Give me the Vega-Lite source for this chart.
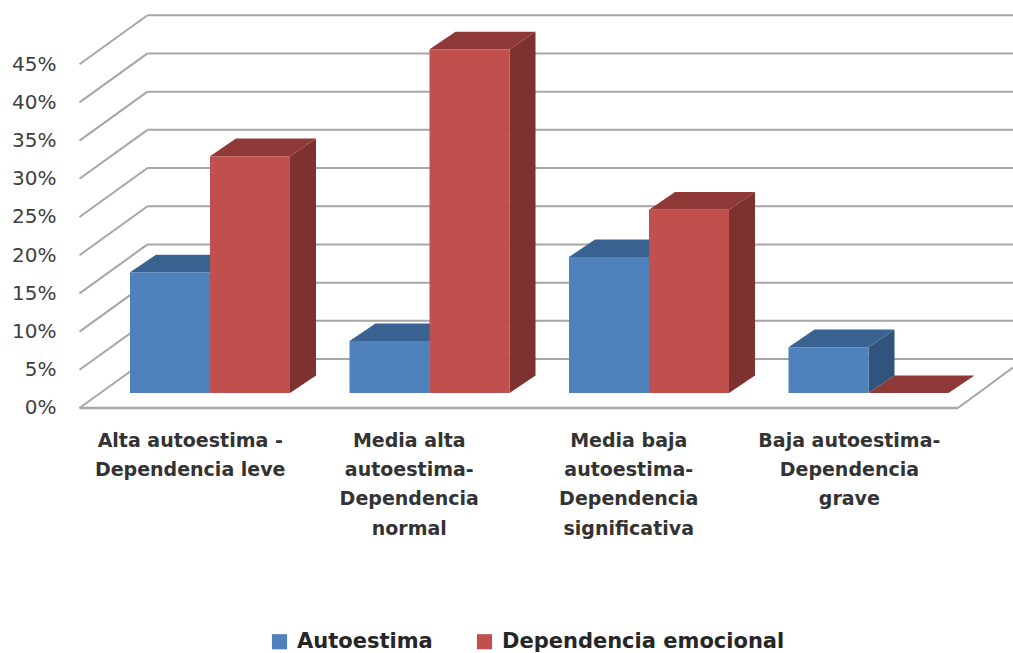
{
"$schema":"https://vega.github.io/schema/vega-lite/v6.json",
"width":955,"height":410,"padding":{"left":58,"top":8,"right":0,"bottom":235},"autosize":"none",
"background":"white",
"config":{"view":{"stroke":null}},
"datasets":{
"bars":[
{"categoria":0,"serie":"Autoestima","valor":15.8},
{"categoria":0,"serie":"Dependencia emocional","valor":31},
{"categoria":1,"serie":"Autoestima","valor":6.8},
{"categoria":1,"serie":"Dependencia emocional","valor":45},
{"categoria":2,"serie":"Autoestima","valor":17.8},
{"categoria":2,"serie":"Dependencia emocional","valor":24},
{"categoria":3,"serie":"Autoestima","valor":6},
{"categoria":3,"serie":"Dependencia emocional","valor":0}
],
"grid":[{"nivel":0},{"nivel":5},{"nivel":10},{"nivel":15},{"nivel":20},{"nivel":25},{"nivel":30},{"nivel":35},{"nivel":40},{"nivel":45}]
},
"layer":[
{"data":{"name":"grid"},"transform":[{"calculate":"datum.nivel+6.41","as":"atras"}],
 "mark":{"type":"rule","color":"#a6a6a6","strokeWidth":2},
 "encoding":{"x":{"datum":0.0797,"type":"quantitative","scale":{"domain":[-0.328,4.0228],"nice":false,"zero":false},
   "axis":{"values":[0.272,1.27,2.27,3.275],"title":null,"domain":false,"ticks":false,"grid":false,"labelPadding":13,"labelFontSize":19,"labelFont":"DejaVu Sans","labelColor":"#333333","labelFontWeight":"bold","labelLineHeight":29.4,"labelBaseline":"top","labelAngle":0,"labelFlush":false,"labelOverlap":false,"labelLimit":300,
   "labelExpr":"[['Alta autoestima -','Dependencia leve'],['Media  alta','autoestima-','Dependencia','normal'],['Media  baja','autoestima-','Dependencia','significativa'],['Baja autoestima-','Dependencia','grave']][round(datum.value-0.27)]"}},
  "x2":{"datum":4.0228},
  "y":{"field":"atras","type":"quantitative","scale":{"domain":[-1.309,52.356],"nice":false,"zero":false},
   "axis":{"values":[0,5,10,15,20,25,30,35,40,45],"title":null,"domain":false,"ticks":false,"grid":false,"labelPadding":2,"labelFontSize":20,"labelFont":"DejaVu Sans","labelColor":"#404040","labelExpr":"datum.value+'%'"}}}},
{"data":{"name":"grid"},"transform":[{"calculate":"datum.nivel+6.41","as":"atras"}],
 "mark":{"type":"rule","color":"#a6a6a6","strokeWidth":2},
 "encoding":{"x":{"datum":-0.2299,"type":"quantitative"},"x2":{"datum":0.0797},
  "y":{"field":"nivel","type":"quantitative"},"y2":{"field":"atras"}}},
{"data":{"values":[{"nivel":0}]},"mark":{"type":"rule","color":"#a6a6a6","strokeWidth":2.5},
 "encoding":{"x":{"datum":-0.2299,"type":"quantitative"},"x2":{"datum":3.772},"y":{"field":"nivel","type":"quantitative"}}},
{"data":{"values":[{"nivel":0}]},"transform":[{"calculate":"datum.nivel+5.3","as":"atras"}],
 "mark":{"type":"rule","color":"#a6a6a6","strokeWidth":2},
 "encoding":{"x":{"datum":3.772,"type":"quantitative"},"x2":{"datum":4.0228},"y":{"field":"nivel","type":"quantitative"},"y2":{"field":"atras"}}},
{"data":{"name":"bars"},
 "transform":[
  {"calculate":"[0,1]","as":"c"},{"flatten":["c"]},
  {"calculate":"datum.categoria+(datum.serie=='Autoestima'?0.3645:0.729)+datum.c*0.1185","as":"xs"},
  {"calculate":"1.963+datum.c*2.3","as":"b"},
  {"calculate":"datum.valor+datum.b","as":"t"},
  {"calculate":"datum.categoria+'-'+datum.serie","as":"id"}],
 "mark":{"type":"area","interpolate":"linear"},
 "encoding":{"x":{"field":"xs","type":"quantitative"},"y":{"field":"t","type":"quantitative"},"y2":{"field":"b"},"detail":{"field":"id"},
  "color":{"field":"serie","type":"nominal","legend":null,"scale":{"domain":["Autoestima","Dependencia emocional"],"range":["#30547e","#7d3230"]}}}},
{"data":{"name":"bars"},
 "transform":[
  {"calculate":"[0,1,2,3]","as":"c"},{"flatten":["c"]},
  {"calculate":"datum.categoria+(datum.serie=='Autoestima'?0:0.3645)+[0,0.1185,0.3645,0.483][datum.c]","as":"xs"},
  {"calculate":"datum.valor+1.963+(datum.c==3?2.3:0)","as":"b"},
  {"calculate":"datum.valor+1.963+(datum.c==0?0:2.3)","as":"t"},
  {"calculate":"datum.categoria+'-'+datum.serie","as":"id"},
  {"calculate":"datum.serie+' top'","as":"cara"}],
 "mark":{"type":"area","interpolate":"linear"},
 "encoding":{"x":{"field":"xs","type":"quantitative"},"y":{"field":"t","type":"quantitative"},"y2":{"field":"b"},"detail":{"field":"id"},
  "color":{"field":"cara","type":"nominal","legend":null,"scale":{"domain":["Autoestima top","Dependencia emocional top"],"range":["#3a6291","#8e3937"]}}}},
{"data":{"name":"bars"},
 "transform":[
  {"calculate":"datum.categoria+(datum.serie=='Autoestima'?0:0.3645)","as":"x0"},
  {"calculate":"datum.x0+0.3645","as":"x1"},
  {"calculate":"1.963","as":"b"},
  {"calculate":"datum.valor+datum.b","as":"t"}],
 "mark":{"type":"rect"},
 "encoding":{"x":{"field":"x0","type":"quantitative"},"x2":{"field":"x1"},"y":{"field":"t","type":"quantitative"},"y2":{"field":"b"},
  "color":{"field":"serie","type":"nominal","scale":{"domain":["Autoestima","Dependencia emocional"],"range":["#4f81bd","#c0504d"]},
   "legend":{"orient":"none","legendX":211,"legendY":623,"direction":"horizontal","columns":2,"title":null,"symbolType":"square","symbolSize":230,"symbolStrokeWidth":0,"labelFont":"DejaVu Sans","labelFontSize":21,"labelFontWeight":"bold","labelColor":"#262626","columnPadding":41,"labelOffset":7,"labelLimit":500}}}}
],
"resolve":{"scale":{"color":"independent"}}
}
